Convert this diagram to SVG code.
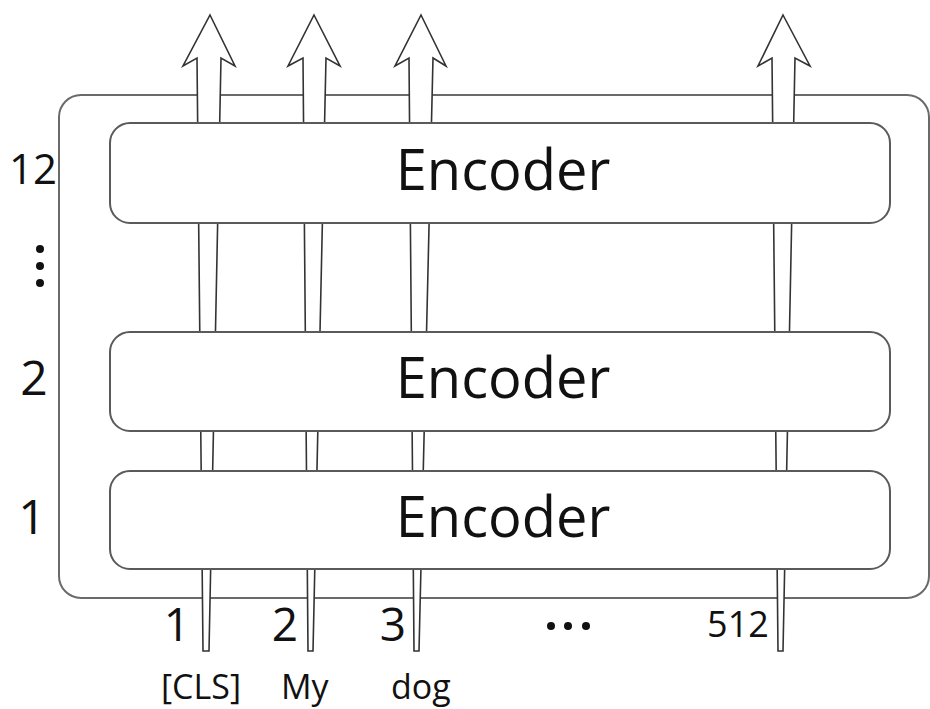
<svg xmlns="http://www.w3.org/2000/svg" width="930" height="709" viewBox="0 0 930 709">
  <style>
    .frame { fill: #fff; stroke: #6a6a6a; stroke-width: 2; }
    .enc { fill: #fff; stroke: #5a5a5a; stroke-width: 2; }
    .arrow { fill: #fff; stroke: #333; stroke-width: 1.6; stroke-linejoin: miter; }
    .t { font-family: "Open Sans", "Noto Sans", sans-serif; fill: #111; }
    .enc-label { font-size: 56px; text-anchor: middle; }
    .layer { font-size: 48px; text-anchor: middle; }
    .pos { font-size: 46px; text-anchor: middle; }
    .tok { font-size: 34px; }
    .dot { fill: #111; }
  </style>
  <rect width="930" height="709" fill="#fff"/>

  <!-- stack frame -->
  <rect id="stack" class="frame" x="59" y="95" width="870" height="503" rx="22"/>

  <!-- token streams running through the stack -->
  <g id="connectors">
    <path class="arrow" d="M210,15 L235,66 L221,58 L209,651 L203,651 L197,58 L183,66 Z"/>
    <path class="arrow" d="M314,15 L340,66 L326,58 L313,651 L308,651 L303,58 L288,66 Z"/>
    <path class="arrow" d="M421,15 L446,66 L433,58 L419,651 L414,651 L409,58 L395,66 Z"/>
    <path class="arrow" d="M783,15 L810,66 L795,58 L783,651 L778,651 L772,58 L758,66 Z"/>
  </g>

  <!-- encoder layers -->
  <g id="encoder12">
    <rect class="enc" x="110" y="123" width="780" height="100" rx="20"/>
    <text class="t enc-label" x="503" y="190">Encoder</text>
  </g>
  <g id="encoder2">
    <rect class="enc" x="110" y="332" width="780" height="99" rx="20"/>
    <text class="t enc-label" x="503" y="398">Encoder</text>
  </g>
  <g id="encoder1">
    <rect class="enc" x="110" y="471" width="780" height="98" rx="20"/>
    <text class="t enc-label" x="503" y="537">Encoder</text>
  </g>

  <!-- layer numbers -->
  <g id="layer-numbers">
    <text class="t" x="33" y="184" font-size="42" text-anchor="middle">12</text>
    <circle class="dot" cx="40" cy="249" r="4"/>
    <circle class="dot" cx="40" cy="266" r="4"/>
    <circle class="dot" cx="40" cy="283" r="4"/>
    <text class="t layer" x="34" y="395">2</text>
    <text class="t layer" x="32" y="534">1</text>
  </g>

  <!-- positions -->
  <g id="positions">
    <text class="t pos" x="177" y="641">1</text>
    <text class="t pos" x="285" y="641">2</text>
    <text class="t pos" x="393" y="641">3</text>
    <circle class="dot" cx="551" cy="626" r="4"/>
    <circle class="dot" cx="568" cy="626" r="4"/>
    <circle class="dot" cx="586" cy="626" r="4"/>
    <text class="t" x="738" y="637" font-size="36" text-anchor="middle">512</text>
  </g>

  <!-- input tokens -->
  <g id="tokens">
    <text class="t tok" x="161" y="699">[CLS]</text>
    <text class="t tok" x="281" y="699">My</text>
    <text class="t tok" x="391" y="699">dog</text>
  </g>
</svg>
